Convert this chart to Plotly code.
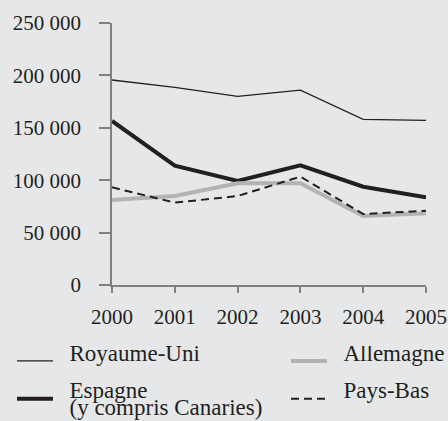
import plotly.graph_objects as go

years = [2000, 2001, 2002, 2003, 2004, 2005]
royaume_uni = [195600, 188600, 180000, 186000, 158100, 157100]
espagne = [156500, 113900, 99200, 114200, 93800, 83600]
allemagne = [81100, 84900, 97000, 97000, 65800, 68400]
pays_bas = [93200, 78600, 84900, 103400, 67700, 70900]
y_ticks = [0, 50000, 100000, 150000, 200000, 250000]
y_tick_labels = ["0", "50 000", "100 000", "150 000", "200 000", "250 000"]
names = ["Royaume-Uni", "Espagne<br>(y compris Canaries)", "Allemagne", "Pays-Bas"]

INK = "#231f20"
GREY = "#b3b3b3"
BG = "#e6e7e9"
AXIS = "#808080"
FONT = "Times New Roman, Liberation Serif, DejaVu Serif, serif"


def big(label):
    return "<br>".join("<sup><span style='font-size:23px'>\u2002%s</span></sup>" % s
                       for s in label.split("<br>"))


fig = go.Figure()
fig.add_trace(go.Scatter(x=years, y=royaume_uni, mode="lines", name=big(names[0]),
                         line=dict(color=INK, width=1.3), legend="legend", legendgroup="a"))
fig.add_trace(go.Scatter(x=years, y=espagne, mode="lines", name=big(names[1]),
                         line=dict(color=INK, width=4), legend="legend", legendgroup="b"))
fig.add_trace(go.Scatter(x=years, y=allemagne, mode="lines", name=big(names[2]),
                         line=dict(color=GREY, width=4), legend="legend2", legendgroup="c"))
fig.add_trace(go.Scatter(x=years, y=pays_bas, mode="lines", name=big(names[3]),
                         line=dict(color=INK, width=2, dash="8px,5px"), legend="legend2", legendgroup="d"))

legend_common = dict(
    xref="container", yref="container", xanchor="left", yanchor="top",
    bgcolor="rgba(0,0,0,0)", font=dict(family=FONT, size=13, color=INK),
    orientation="v", tracegroupgap=18, valign="top", itemwidth=36,
)

fig.update_layout(
    width=448, height=421,
    paper_bgcolor=BG, plot_bgcolor=BG,
    margin=dict(l=112, r=22, t=23, b=136, autoexpand=False),
    font=dict(family=FONT, size=21, color=INK),
    separators=". ",
    showlegend=True,
    legend=dict(x=12 / 448, y=1 - 346 / 421, **legend_common),
    legend2=dict(x=286 / 448, y=1 - 346 / 421, **legend_common),
    xaxis=dict(
        range=[2000, 2005], tickvals=years, ticktext=[str(y) for y in years],
        showline=True, linecolor=AXIS, linewidth=1.5, showgrid=False, zeroline=False,
        ticks="outside", ticklen=6, tickcolor=AXIS, tickwidth=1.5,
        tickfont=dict(family=FONT, size=21, color=INK), ticklabelstandoff=6,
    ),
    yaxis=dict(
        range=[0, 250000], tickvals=y_ticks, ticktext=y_tick_labels,
        showline=True, linecolor=AXIS, linewidth=1.5, showgrid=False, zeroline=False,
        ticks="outside", ticklen=11, tickcolor=AXIS, tickwidth=1.5,
        tickfont=dict(family=FONT, size=21, color=INK), ticklabelstandoff=14,
    ),
)

fig.write_html("out.html", config={"displayModeBar": False},
               post_script="document.body.style.margin='0';")
